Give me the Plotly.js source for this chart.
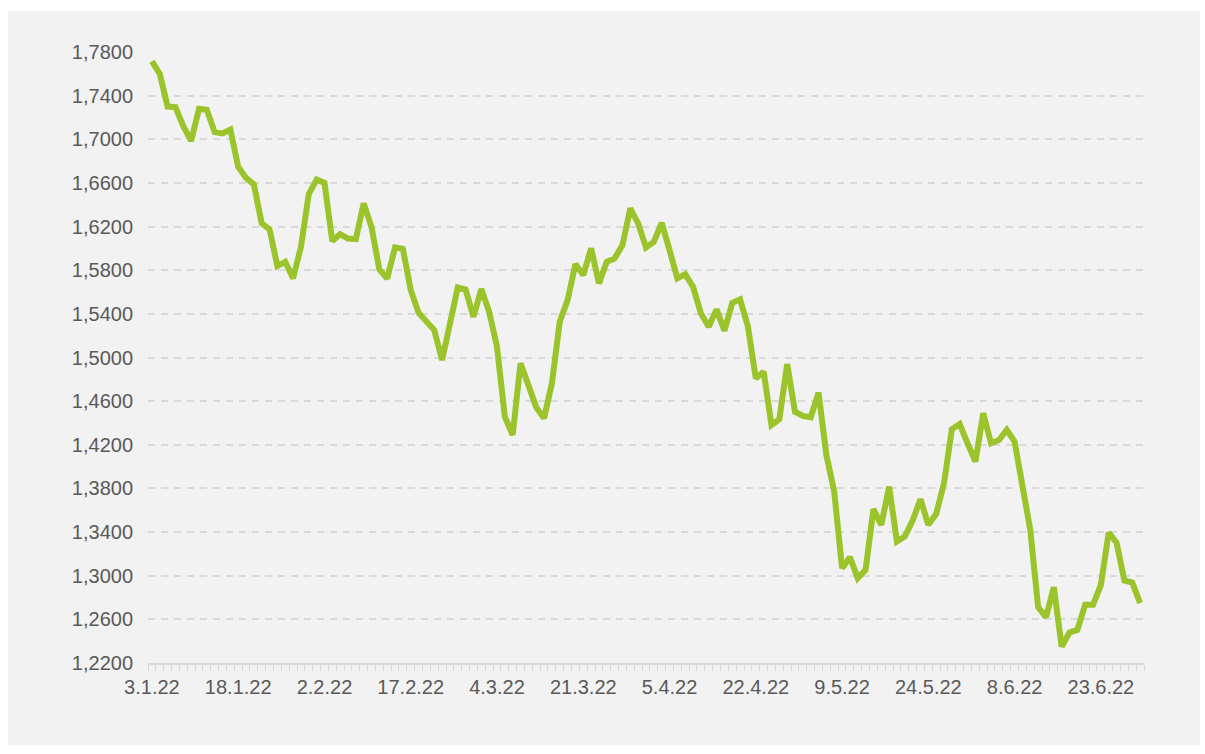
<!DOCTYPE html>
<html>
<head>
<meta charset="utf-8">
<script src="https://cdn.plot.ly/plotly-3.0.1.min.js"></script>
<style>
  html, body { margin: 0; padding: 0; background: #ffffff; width: 1205px; height: 754px; overflow: hidden; }
  #chart { position: absolute; left: 8px; top: 11px; width: 1192px; height: 734px; }
</style>
</head>
<body>
<div id="chart"></div>
<script>
const dates = [
  "3.1.22","4.1.22","5.1.22","6.1.22","7.1.22","10.1.22","11.1.22","12.1.22","13.1.22","14.1.22",
  "17.1.22","18.1.22","19.1.22","20.1.22","21.1.22","24.1.22","25.1.22","26.1.22","27.1.22","28.1.22","31.1.22",
  "1.2.22","2.2.22","3.2.22","4.2.22","7.2.22","8.2.22","9.2.22","10.2.22","11.2.22","14.2.22",
  "15.2.22","16.2.22","17.2.22","18.2.22","21.2.22","22.2.22","23.2.22","24.2.22","25.2.22","28.2.22",
  "1.3.22","2.3.22","3.3.22","4.3.22","7.3.22","8.3.22","9.3.22","10.3.22","11.3.22","14.3.22",
  "15.3.22","16.3.22","17.3.22","18.3.22","21.3.22","22.3.22","23.3.22","24.3.22","25.3.22","28.3.22",
  "29.3.22","30.3.22","31.3.22",
  "1.4.22","4.4.22","5.4.22","6.4.22","7.4.22","8.4.22","11.4.22","12.4.22","13.4.22","14.4.22",
  "19.4.22","20.4.22","21.4.22","22.4.22","25.4.22","26.4.22","27.4.22","28.4.22","29.4.22",
  "2.5.22","3.5.22","4.5.22","5.5.22","6.5.22","9.5.22","10.5.22","11.5.22","12.5.22","13.5.22",
  "16.5.22","17.5.22","18.5.22","19.5.22","20.5.22","23.5.22","24.5.22","25.5.22","26.5.22","27.5.22",
  "30.5.22","31.5.22",
  "1.6.22","2.6.22","3.6.22","6.6.22","7.6.22","8.6.22","9.6.22","10.6.22","13.6.22","14.6.22",
  "15.6.22","16.6.22","17.6.22","20.6.22","21.6.22","22.6.22","23.6.22","24.6.22","27.6.22","28.6.22",
  "29.6.22","30.6.22"
];

const values = [
  1.7715,1.7600,1.7300,1.7295,1.7120,1.6985,1.7280,1.7270,1.7065,1.7053,
  1.7089,1.6747,1.6646,1.6586,1.6229,1.6174,1.5838,1.5877,1.5725,1.6014,
  1.6497,1.6631,1.6600,1.6067,1.6131,1.6090,1.6085,1.6412,1.6197,1.5807,
  1.5725,1.6009,1.5996,1.5618,1.5410,1.5337,1.5251,1.4977,1.5343,1.5642,
  1.5624,1.5373,1.5627,1.5419,1.5099,1.4458,1.4290,1.4947,1.4748,1.4544,
  1.4443,1.4763,1.5327,1.5526,1.5856,1.5755,1.6000,1.5679,1.5877,1.5908,
  1.6030,1.6366,1.6229,1.6009,1.6060,1.6234,1.5984,1.5725,1.5764,1.5648,
  1.5404,1.5282,1.5441,1.5245,1.5501,1.5533,1.5282,1.4809,1.4870,1.4381,
  1.4434,1.4940,1.4503,1.4464,1.4452,1.4677,1.4107,1.3771,1.3069,1.3170,
  1.2978,1.3054,1.3610,1.3466,1.3817,1.3313,1.3359,1.3505,1.3701,1.3466,
  1.3567,1.3848,1.4342,1.4390,1.4214,1.4046,1.4489,1.4214,1.4244,1.4336,
  1.4229,1.3848,1.3420,1.2712,1.2620,1.2895,1.2351,1.2479,1.2504,1.2733,
  1.2733,1.2916,1.3395,1.3304,1.2956,1.2937,1.2749
];

const labelEvery = 11;
const tickText = dates.map((d, i) => (i % labelEvery === 0 ? d : ""));

const fontFamily = "Liberation Sans, Arial, sans-serif";
const textColor = "#595959";
const gridColor = "#d9d9d9";

const trace = {
  type: "scatter",
  mode: "lines",
  x: dates,
  y: values,
  line: { color: "#9bc32b", width: 6, shape: "linear" },
  hoverinfo: "skip"
};

const layout = {
  width: 1192,
  height: 734,
  paper_bgcolor: "#f2f2f2",
  plot_bgcolor: "#f2f2f2",
  margin: { l: 140, r: 56, t: 41, b: 82 },
  separators: ",.",
  showlegend: false,
  font: { family: fontFamily, size: 20, color: textColor },
  xaxis: {
    type: "category",
    range: [-0.5, dates.length - 0.5],
    tickmode: "array",
    tickvals: dates,
    ticktext: tickText,
    tickson: "boundaries",
    ticks: "outside",
    ticklen: 6,
    tickwidth: 1,
    tickcolor: gridColor,
    ticklabelstandoff: 5,
    showgrid: false,
    showline: true,
    linecolor: gridColor,
    linewidth: 2,
    tickangle: 0,
    tickfont: { family: fontFamily, size: 20, color: textColor },
    fixedrange: true
  },
  yaxis: {
    range: [1.22, 1.78],
    tickmode: "linear",
    tick0: 1.22,
    dtick: 0.04,
    tickformat: ".4f",
    showgrid: true,
    gridcolor: gridColor,
    gridwidth: 2,
    griddash: "7px,6px",
    zeroline: false,
    showline: false,
    ticks: "",
    ticklabelstandoff: 14,
    tickfont: { family: fontFamily, size: 20, color: textColor },
    fixedrange: true
  }
};

Plotly.newPlot("chart", [trace], layout, { displayModeBar: false, staticPlot: true });
</script>
</body>
</html>
